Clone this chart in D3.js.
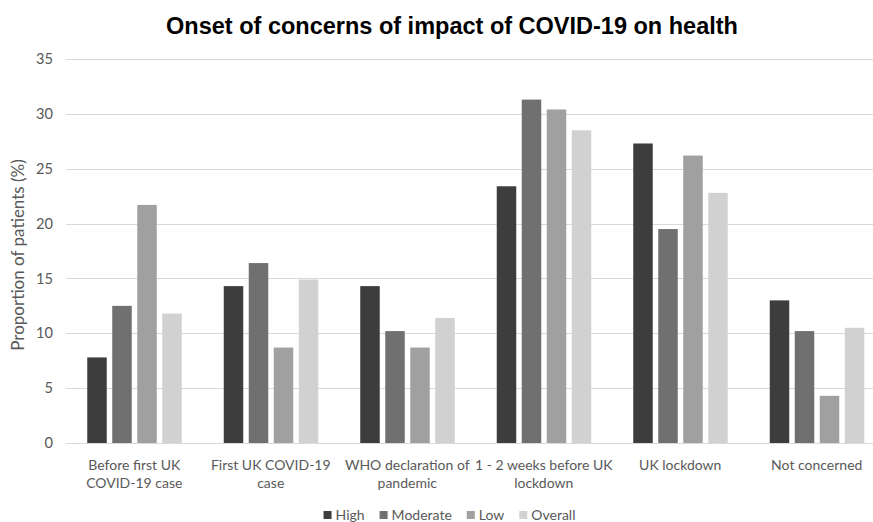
<!DOCTYPE html>
<html>
<head>
<meta charset="utf-8">
<script src="https://cdn.jsdelivr.net/npm/d3@7"></script>
<style>
  html, body { margin: 0; padding: 0; background: #fff; }
  svg { display: block; }
</style>
</head>
<body>
<script>
// Onset of concerns about COVID-19's impact on health, by concern level
const categories = [
  "Before first UK COVID-19 case",
  "First UK COVID-19 case",
  "WHO declaration of pandemic",
  "1 - 2 weeks before UK lockdown",
  "UK lockdown",
  "Not concerned"
];
const categoryLabelLines = [
  ["Before first UK", "COVID-19 case"],
  ["First UK COVID-19", "case"],
  ["WHO declaration of", "pandemic"],
  ["1 - 2 weeks before UK", "lockdown"],
  ["UK lockdown"],
  ["Not concerned"]
];
const seriesNames = ["High", "Moderate", "Low", "Overall"];
const highValues     = [7.8, 14.3, 14.3, 23.4, 27.3, 13.0];
const moderateValues = [12.5, 16.4, 10.2, 31.3, 19.5, 10.2];
const lowValues      = [21.7, 8.7, 8.7, 30.4, 26.2, 4.3];
const overallValues  = [11.8, 14.9, 11.4, 28.5, 22.8, 10.5];
const yTicks = [0, 5, 10, 15, 20, 25, 30, 35];

const seriesValues = [highValues, moderateValues, lowValues, overallValues];
const seriesColors = ["#3d3d3d", "#707070", "#a0a0a0", "#d1d1d1"];

const W = 873, H = 522;
const font = "Lato, 'Open Sans', sans-serif";
const textGray = "#595959";
const labelSize = 14;

const svg = d3.select("body").append("svg")
  .attr("width", W).attr("height", H);

// Scales
const x = d3.scaleBand().domain(categories).range([66, 885]).padding(0);
const xInner = d3.scaleBand().domain(seriesNames)
  .range([18.5, 118.5]).paddingInner(0.22).paddingOuter(0.11);
const y = d3.scaleLinear().domain([0, 35]).range([443, 59]);

// Title
svg.append("text")
  .attr("x", 452).attr("y", 34)
  .attr("text-anchor", "middle")
  .attr("font-family", "'Liberation Sans', Arial, sans-serif")
  .attr("font-weight", "bold")
  .attr("font-size", 23.5)
  .attr("fill", "#000")
  .text("Onset of concerns of impact of COVID-19 on health");

// Horizontal gridlines
svg.append("g")
  .selectAll("line")
  .data(yTicks)
  .join("line")
  .attr("x1", 66).attr("x2", 885)
  .attr("y1", d => Math.round(y(d)) + 0.5)
  .attr("y2", d => Math.round(y(d)) + 0.5)
  .attr("stroke", "#d9d9d9")
  .attr("stroke-width", 1);

// Y axis labels
const yAxis = d3.axisLeft(y).tickValues(yTicks).tickSize(0).tickPadding(0);
const yG = svg.append("g").attr("transform", "translate(53,0)").call(yAxis);
yG.select(".domain").remove();
yG.selectAll("text")
  .attr("font-family", font)
  .attr("font-size", 14.6)
  .attr("fill", textGray);

// Y axis title
svg.append("text")
  .attr("transform", "translate(24,255) rotate(-90)")
  .attr("text-anchor", "middle")
  .attr("font-family", font)
  .attr("font-size", 17)
  .attr("fill", textGray)
  .text("Proportion of patients (%)");

// Bars
const groups = svg.append("g")
  .selectAll("g")
  .data(categories)
  .join("g")
  .attr("transform", d => `translate(${x(d)},0)`);

groups.selectAll("rect")
  .data((c, i) => seriesNames.map((s, j) => ({ series: s, value: seriesValues[j][i], color: seriesColors[j] })))
  .join("rect")
  .attr("x", d => xInner(d.series))
  .attr("width", xInner.bandwidth())
  .attr("y", d => y(d.value))
  .attr("height", d => y(0) - y(d.value))
  .attr("fill", d => d.color);

// X axis category labels
const xLabels = svg.append("g")
  .selectAll("text")
  .data(categories)
  .join("text")
  .attr("x", d => x(d) + x.bandwidth() / 2)
  .attr("y", 470)
  .attr("text-anchor", "middle")
  .attr("font-family", font)
  .attr("font-size", labelSize)
  .attr("fill", textGray);
xLabels.selectAll("tspan")
  .data((d, i) => categoryLabelLines[i])
  .join("tspan")
  .attr("x", function () { return d3.select(this.parentNode).attr("x"); })
  .attr("dy", (d, i) => i === 0 ? 0 : 17.5)
  .text(d => d);

// Legend
const legend = svg.append("g");
const items = legend.selectAll("g")
  .data(seriesNames)
  .join("g");
items.append("rect")
  .attr("width", 8).attr("height", 8)
  .attr("y", -9)
  .attr("fill", (d, i) => seriesColors[i]);
items.append("text")
  .attr("x", 12)
  .attr("y", 0)
  .attr("font-family", font)
  .attr("font-size", labelSize)
  .attr("fill", textGray)
  .text(d => d);
const itemGap = 15;
let cursor = 0;
items.each(function () {
  const w = 12 + this.querySelector("text").getComputedTextLength();
  d3.select(this).attr("data-off", cursor);
  cursor += w + itemGap;
});
const legendWidth = cursor - itemGap;
const legendStart = 449.5 - legendWidth / 2;
items.attr("transform", function () {
  return `translate(${legendStart + (+this.getAttribute("data-off"))},520)`;
});
</script>
</body>
</html>
